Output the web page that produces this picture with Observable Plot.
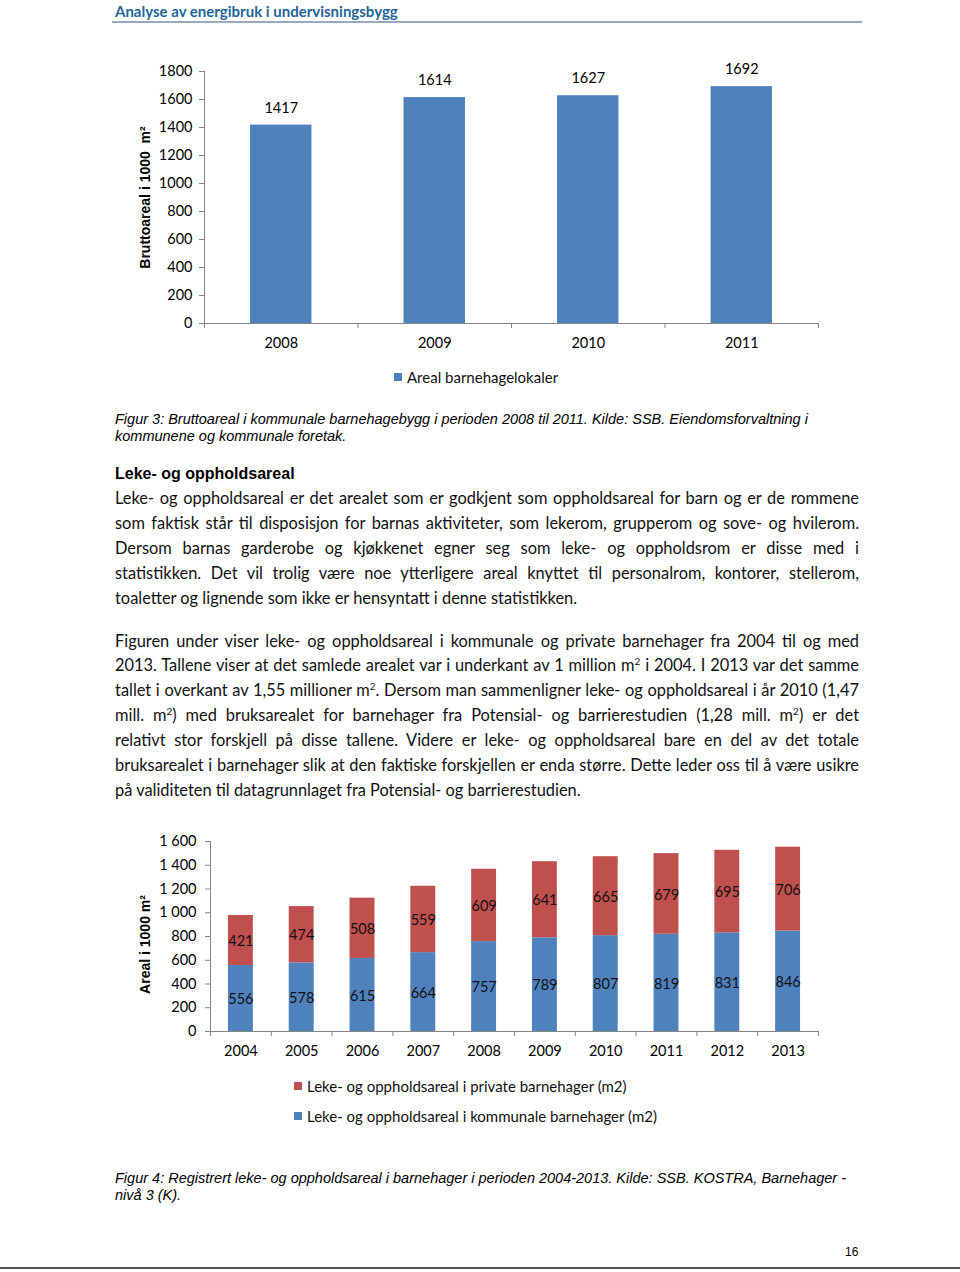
<!DOCTYPE html>
<html><head><meta charset="utf-8">
<script src="https://cdn.jsdelivr.net/npm/d3@7"></script>
<script src="https://cdn.jsdelivr.net/npm/@observablehq/plot@0.6"></script>
<style>
html,body{margin:0;padding:0;background:#fff;}
#page{position:relative;width:960px;height:1272px;overflow:hidden;font-family:Lato,sans-serif;color:#111;}
.abs{position:absolute;}
.hdr{left:115px;top:1px;font-family:Lato;font-weight:bold;font-size:15px;line-height:20px;color:#1f659a;}
.hline{left:112px;top:21px;width:750px;height:2px;background:#98a9bc;}
.cap{left:115px;font-family:"Liberation Sans",Arial,sans-serif;font-style:italic;font-size:14.5px;line-height:17px;color:#000;white-space:nowrap;}
.h2{left:115px;top:464px;font-family:"Liberation Sans",Arial,sans-serif;font-weight:bold;font-size:16px;line-height:20px;color:#000;}
.para{left:115px;width:744px;font-family:Lato,sans-serif;font-size:16.4px;color:#111;}
.para div{white-space:nowrap;}
.para div.j{text-align:justify;text-align-last:justify;}
.para sup{font-size:10px;line-height:0;vertical-align:6px;}
.leg{font-family:Lato,sans-serif;font-size:15px;line-height:18px;color:#111;white-space:nowrap;}
.sw{width:8px;height:8px;}
.pnum{left:845px;top:1245px;font-family:"Liberation Sans",Arial,sans-serif;font-size:12px;color:#000;}
.bline{left:0;top:1267px;width:960px;height:2px;background:#555;}
</style>
</head><body><div id="page"></div>
<script>
// ---------- data ----------
const years1 = ["2008", "2009", "2010", "2011"];
const areal1 = [1417, 1614, 1627, 1692];
const yTicks1 = [0, 200, 400, 600, 800, 1000, 1200, 1400, 1600, 1800];
const yTitle1 = "Bruttoareal i 1000  m²";
const legend1 = "Areal barnehagelokaler";

const years2 = ["2004", "2005", "2006", "2007", "2008", "2009", "2010", "2011", "2012", "2013"];
const kommunale = [556, 578, 615, 664, 757, 789, 807, 819, 831, 846];
const privat = [421, 474, 508, 559, 609, 641, 665, 679, 695, 706];
const yTicks2 = [0, 200, 400, 600, 800, 1000, 1200, 1400, 1600];
const yTickLabels2 = ["0", "200", "400", "600", "800", "1 000", "1 200", "1 400", "1 600"];
const yTitle2 = "Areal i 1000 m²";
const seriesNames = ["Leke- og oppholdsareal i kommunale barnehager (m2)", "Leke- og oppholdsareal i private barnehager (m2)"];

// ---------- styles ----------
const BLUE = "#4F81BD", RED = "#C0504D", AXIS = "#868686";
const page = document.getElementById("page");
function add(cls, html, style) {
  const d = document.createElement("div");
  d.className = "abs " + cls;
  if (html != null) d.innerHTML = html;
  if (style) Object.assign(d.style, style);
  page.appendChild(d);
  return d;
}

// header
add("hdr", "Analyse av energibruk i undervisningsbygg");
add("hline");

// ---------- chart 1 ----------
{
  const top = 50, W = 960, mL = 204, mR = 142, mT = 21, H = 310, mB = 37;
  const pIn = 0.6, pOut = 0.3;
  const step = (W - mL - mR) / (years1.length - pIn + 2 * pOut);
  const rows = years1.map((y, i) => ({year: y, value: areal1[i]}));
  const svg = Plot.plot({
    width: W, height: H, marginLeft: mL, marginRight: mR, marginTop: mT, marginBottom: mB,
    style: {fontFamily: "Lato", fontSize: "14.5px", color: "#000", background: "transparent", overflow: "visible"},
    x: {domain: years1, paddingInner: pIn, paddingOuter: pOut, round: false, label: null},
    y: {domain: [0, 1800], label: null},
    marks: [
      Plot.barY(rows, {x: "year", y: "value", fill: BLUE}),
      Plot.text(rows, {x: "year", y: "value", text: d => String(d.value), dy: -17, fill: "#000"}),
      Plot.axisY({ticks: yTicks1, tickSize: 5, tickPadding: 7, stroke: AXIS, fill: "#000", label: null, tickFormat: d => String(d)}),
      Plot.axisX({tickSize: 0, tickPadding: 14, fill: "#000", label: null}),
      Plot.ruleY([0], {stroke: AXIS}),
      Plot.frame({anchor: "left", stroke: AXIS}),
      Plot.ruleX(years1.slice(0, 1), {x: d => d, y1: 0, y2: 0, insetBottom: -5, dx: -step / 2, stroke: AXIS}),
      Plot.ruleX(years1, {x: d => d, y1: 0, y2: 0, insetBottom: -5, dx: step / 2, stroke: AXIS}),
      Plot.text([yTitle1], {frameAnchor: "left", textAnchor: "middle", rotate: -90, dx: -59, text: d => d, fontWeight: "bold", fontFamily: "Liberation Sans", fontSize: 14, fill: "#000"})
    ]
  });
  const holder = add("", null, {left: "0px", top: top + "px"});
  holder.appendChild(svg);
  add("sw", null, {left: "394px", top: "373px", background: BLUE});
  add("leg", legend1, {left: "407px", top: "368px"});
}

// caption 1
add("cap", "Figur 3: Bruttoareal i kommunale barnehagebygg i perioden 2008 til 2011. Kilde: SSB. Eiendomsforvaltning i<br>kommunene og kommunale foretak.", {top: "411px"});

// heading + paragraphs
add("h2", "Leke- og oppholdsareal");
function para(top, lh, lines) {
  const p = add("para", null, {top: top + "px", lineHeight: lh + "px"});
  lines.forEach((l, i) => {
    const d = document.createElement("div");
    if (i < lines.length - 1) d.className = "j";
    d.innerHTML = l;
    p.appendChild(d);
    // shrink letter spacing if a line is too long for the column
    let ls = 0;
    while (d.scrollWidth > 744 && ls > -1) { ls -= 0.05; d.style.letterSpacing = ls + "px"; }
  });
}
para(484.5, 25, [
  "Leke- og oppholdsareal er det arealet som er godkjent som oppholdsareal for barn og er de rommene",
  "som faktisk står til disposisjon for barnas aktiviteter, som lekerom, grupperom og sove- og hvilerom.",
  "Dersom barnas garderobe og kjøkkenet egner seg som leke- og oppholdsrom er disse med i",
  "statistikken. Det vil trolig være noe ytterligere areal knyttet til personalrom, kontorer, stellerom,",
  "toaletter og lignende som ikke er hensyntatt i denne statistikken."
]);
para(628.5, 24.85, [
  "Figuren under viser leke- og oppholdsareal i kommunale og private barnehager fra 2004 til og med",
  "2013. Tallene viser at det samlede arealet var i underkant av 1 million m<sup>2</sup> i 2004. I 2013 var det samme",
  "tallet i overkant av 1,55 millioner m<sup>2</sup>. Dersom man sammenligner leke- og oppholdsareal i år 2010 (1,47",
  "mill. m<sup>2</sup>) med bruksarealet for barnehager fra Potensial- og barrierestudien (1,28 mill. m<sup>2</sup>) er det",
  "relativt stor forskjell på disse tallene. Videre er leke- og oppholdsareal bare en del av det totale",
  "bruksarealet i barnehager slik at den faktiske forskjellen er enda større. Dette leder oss til å være usikre",
  "på validiteten til datagrunnlaget fra Potensial- og barrierestudien."
]);

// ---------- chart 2 ----------
{
  const top = 830, W = 960, mL = 210, mR = 142, mT = 11, H = 240, mB = 39;
  const pIn = 0.59, pOut = 0.295;
  const step = (W - mL - mR) / (years2.length - pIn + 2 * pOut);
  const rows = years2.flatMap((y, i) => [
    {year: y, series: seriesNames[0], value: kommunale[i]},
    {year: y, series: seriesNames[1], value: privat[i]}
  ]);
  const svg = Plot.plot({
    width: W, height: H, marginLeft: mL, marginRight: mR, marginTop: mT, marginBottom: mB,
    style: {fontFamily: "Lato", fontSize: "14.5px", color: "#000", background: "transparent", overflow: "visible"},
    x: {domain: years2, paddingInner: pIn, paddingOuter: pOut, round: false, label: null},
    y: {domain: [0, 1600], label: null},
    color: {domain: seriesNames, range: [BLUE, RED]},
    marks: [
      Plot.barY(rows, Plot.stackY({x: "year", y: "value", fill: "series", order: seriesNames})),
      Plot.text(rows, Plot.stackY({x: "year", y: "value", z: "series", order: seriesNames, text: d => String(d.value), fill: "#111", dy: 1})),
      Plot.axisY({ticks: yTicks2, tickSize: 5, tickPadding: 9, stroke: AXIS, fill: "#000", label: null, tickFormat: d => yTickLabels2[yTicks2.indexOf(d)]}),
      Plot.axisX({tickSize: 0, tickPadding: 14, fill: "#000", label: null}),
      Plot.ruleY([0], {stroke: AXIS}),
      Plot.frame({anchor: "left", stroke: AXIS}),
      Plot.ruleX(years2.slice(0, 1), {x: d => d, y1: 0, y2: 0, insetBottom: -5, dx: -step / 2, stroke: AXIS}),
      Plot.ruleX(years2, {x: d => d, y1: 0, y2: 0, insetBottom: -5, dx: step / 2, stroke: AXIS}),
      Plot.text([yTitle2], {frameAnchor: "left", textAnchor: "middle", rotate: -90, dx: -65, dy: 8, text: d => d, fontWeight: "bold", fontFamily: "Liberation Sans", fontSize: 14, fill: "#000"})
    ]
  });
  const holder = add("", null, {left: "0px", top: top + "px"});
  holder.appendChild(svg);
  add("sw", null, {left: "294px", top: "1082px", background: RED});
  add("leg", seriesNames[1], {left: "307px", top: "1077px"});
  add("sw", null, {left: "294px", top: "1112px", background: BLUE});
  add("leg", seriesNames[0], {left: "307px", top: "1107px"});
}

// caption 2
add("cap", "Figur 4: Registrert leke- og oppholdsareal i barnehager i perioden 2004-2013. Kilde: SSB. KOSTRA, Barnehager -<br>nivå 3 (K).", {top: "1169.5px"});
add("pnum", "16");
add("bline");
</script>
</body></html>
